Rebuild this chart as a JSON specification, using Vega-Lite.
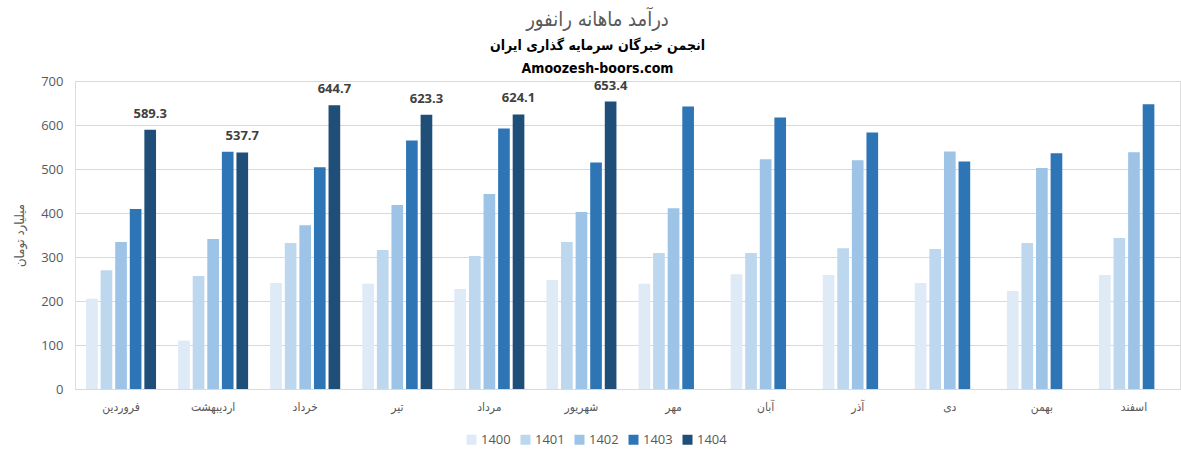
{
  "$schema": "https://vega.github.io/schema/vega-lite/v6.json",
  "autosize": {"type": "none"},
  "width": 1105,
  "height": 308,
  "padding": {"left": 75, "top": 81, "right": 1, "bottom": 72},
  "background": "white",
  "title": {
    "text": "درآمد ماهانه رانفور",
    "subtitle": ["انجمن خبرگان سرمایه گذاری ایران", "Amoozesh-boors.com"],
    "anchor": "middle",
    "dx": -30,
    "font": "DejaVu Sans Condensed",
    "fontSize": 20,
    "fontWeight": "normal",
    "color": "#595959",
    "subtitleFont": "DejaVu Sans Condensed",
    "subtitleFontSize": 14,
    "subtitleFontWeight": "bold",
    "subtitleColor": "#000000",
    "subtitlePadding": 9,
    "subtitleLineHeight": 23,
    "offset": -1
  },
  "data": {
    "values": [
      {"month": "فروردین", "year": "1400", "value": 205},
      {"month": "فروردین", "year": "1401", "value": 270},
      {"month": "فروردین", "year": "1402", "value": 334},
      {"month": "فروردین", "year": "1403", "value": 409},
      {"month": "فروردین", "year": "1404", "value": 589.3},
      {"month": "اردیبهشت", "year": "1400", "value": 110},
      {"month": "اردیبهشت", "year": "1401", "value": 257},
      {"month": "اردیبهشت", "year": "1402", "value": 341},
      {"month": "اردیبهشت", "year": "1403", "value": 539},
      {"month": "اردیبهشت", "year": "1404", "value": 537.7},
      {"month": "خرداد", "year": "1400", "value": 241},
      {"month": "خرداد", "year": "1401", "value": 332},
      {"month": "خرداد", "year": "1402", "value": 372},
      {"month": "خرداد", "year": "1403", "value": 504},
      {"month": "خرداد", "year": "1404", "value": 644.7},
      {"month": "تیر", "year": "1400", "value": 239},
      {"month": "تیر", "year": "1401", "value": 316},
      {"month": "تیر", "year": "1402", "value": 418},
      {"month": "تیر", "year": "1403", "value": 565},
      {"month": "تیر", "year": "1404", "value": 623.3},
      {"month": "مرداد", "year": "1400", "value": 227},
      {"month": "مرداد", "year": "1401", "value": 302},
      {"month": "مرداد", "year": "1402", "value": 443},
      {"month": "مرداد", "year": "1403", "value": 592},
      {"month": "مرداد", "year": "1404", "value": 624.1},
      {"month": "شهریور", "year": "1400", "value": 248},
      {"month": "شهریور", "year": "1401", "value": 334},
      {"month": "شهریور", "year": "1402", "value": 402},
      {"month": "شهریور", "year": "1403", "value": 515},
      {"month": "شهریور", "year": "1404", "value": 653.4},
      {"month": "مهر", "year": "1400", "value": 239},
      {"month": "مهر", "year": "1401", "value": 309},
      {"month": "مهر", "year": "1402", "value": 411},
      {"month": "مهر", "year": "1403", "value": 642},
      {"month": "آبان", "year": "1400", "value": 261},
      {"month": "آبان", "year": "1401", "value": 309},
      {"month": "آبان", "year": "1402", "value": 522},
      {"month": "آبان", "year": "1403", "value": 617},
      {"month": "آذر", "year": "1400", "value": 259},
      {"month": "آذر", "year": "1401", "value": 320},
      {"month": "آذر", "year": "1402", "value": 520},
      {"month": "آذر", "year": "1403", "value": 583},
      {"month": "دی", "year": "1400", "value": 241},
      {"month": "دی", "year": "1401", "value": 318},
      {"month": "دی", "year": "1402", "value": 540},
      {"month": "دی", "year": "1403", "value": 517},
      {"month": "بهمن", "year": "1400", "value": 223},
      {"month": "بهمن", "year": "1401", "value": 332},
      {"month": "بهمن", "year": "1402", "value": 502},
      {"month": "بهمن", "year": "1403", "value": 536},
      {"month": "اسفند", "year": "1400", "value": 259},
      {"month": "اسفند", "year": "1401", "value": 343},
      {"month": "اسفند", "year": "1402", "value": 538},
      {"month": "اسفند", "year": "1403", "value": 647}
    ]
  },
  "encoding": {
    "x": {
      "field": "month",
      "type": "nominal",
      "sort": ["فروردین", "اردیبهشت", "خرداد", "تیر", "مرداد", "شهریور", "مهر", "آبان", "آذر", "دی", "بهمن", "اسفند"],
      "scale": {"paddingInner": 0.24, "paddingOuter": 0.12},
      "axis": {
        "title": null,
        "labelAngle": 0,
        "labelFont": "DejaVu Sans Condensed",
        "labelFontSize": 12,
        "labelColor": "#595959",
        "labelPadding": 12,
        "ticks": false,
        "domainColor": "#D9D9D9",
        "grid": false
      }
    },
    "xOffset": {
      "field": "year",
      "type": "nominal",
      "scale": {"domain": ["1400", "1401", "1402", "1403", "1404"], "paddingInner": 0.2}
    },
    "y": {
      "field": "value",
      "type": "quantitative",
      "scale": {"domain": [0, 700]},
      "axis": {
        "values": [0, 100, 200, 300, 400, 500, 600, 700],
        "title": "میلیارد تومان",
        "titleFont": "DejaVu Sans Condensed",
        "titleFontSize": 13,
        "titleFontWeight": "normal",
        "titleColor": "#595959",
        "titlePadding": 14,
        "labelFont": "Open Sans",
        "labelFontSize": 13,
        "labelColor": "#595959",
        "labelPadding": 12,
        "ticks": false,
        "domain": false,
        "gridColor": "#D9D9D9"
      }
    }
  },
  "layer": [
    {
      "mark": {"type": "bar"},
      "encoding": {
        "color": {
          "field": "year",
          "type": "nominal",
          "scale": {
            "domain": ["1400", "1401", "1402", "1403", "1404"],
            "range": ["#DEEAF6", "#BDD7EE", "#9DC3E6", "#2E75B6", "#1F4E79"]
          },
          "legend": {
            "title": null,
            "orient": "none",
            "direction": "horizontal",
            "legendX": 390,
            "legendY": 352,
            "symbolType": "square",
            "symbolSize": 100,
            "symbolStrokeWidth": 0,
            "labelFont": "Open Sans",
            "labelFontSize": 13,
            "labelColor": "#595959",
            "columnPadding": 8,
            "labelOffset": 3
          }
        }
      }
    },
    {
      "transform": [{"filter": "datum.year == '1404'"}],
      "mark": {
        "type": "text",
        "baseline": "bottom",
        "dy": -9,
        "font": "Open Sans",
        "fontSize": 13,
        "fontWeight": "bold",
        "color": "#404040"
      },
      "encoding": {
        "text": {"field": "value", "type": "quantitative", "format": ".1f"}
      }
    }
  ]
}
